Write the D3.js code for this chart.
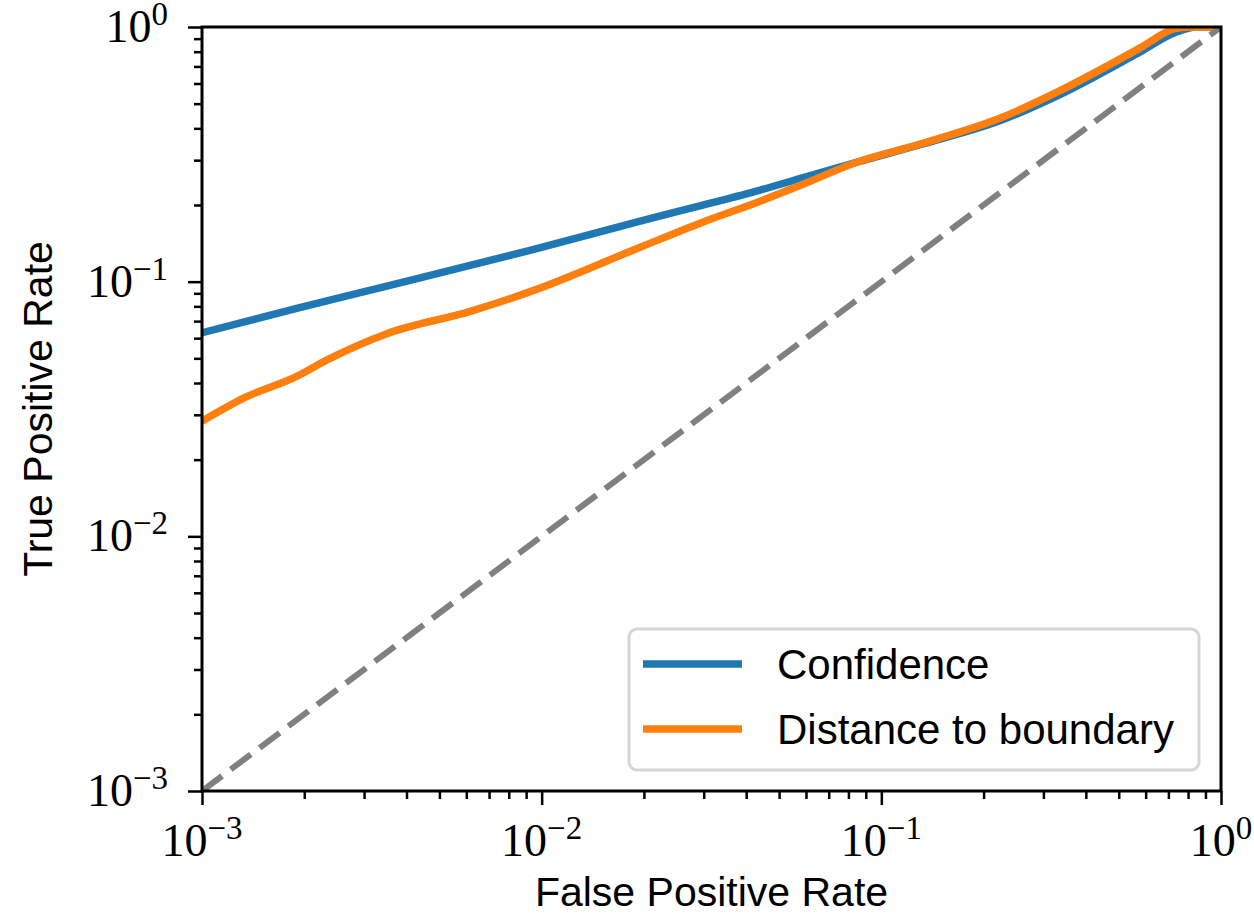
<!DOCTYPE html>
<html>
<head>
<meta charset="utf-8">
<script src="https://cdn.jsdelivr.net/npm/d3@7"></script>
<style>
body { margin: 0; background: #fff; }
</style>
</head>
<body>
<div id="chart"></div>
<script>
// ROC curves (log-log)
var fprConf = [0.001, 0.0019, 0.0035, 0.0093, 0.0195, 0.0294, 0.044, 0.06, 0.085, 0.13, 0.225, 0.338, 0.58, 0.73, 0.85, 1.0];
var tprConf = [0.063, 0.0786, 0.096, 0.133, 0.173, 0.199, 0.229, 0.258, 0.295, 0.345, 0.43, 0.545, 0.80, 0.95, 1.0, 1.0];
var fprDist = [0.001, 0.00134, 0.0019, 0.00235, 0.0035, 0.0062, 0.0093, 0.0195, 0.0294, 0.044, 0.0578, 0.085, 0.13, 0.225, 0.338, 0.58, 0.73, 0.8, 1.0];
var tprDist = [0.0283, 0.0351, 0.0425, 0.0495, 0.0625, 0.0766, 0.0916, 0.1365, 0.17, 0.207, 0.239, 0.295, 0.347, 0.44, 0.565, 0.83, 0.985, 1.0, 1.0];
var diagonal = [0.001, 1];
var tickExps = [-3, -2, -1, 0];
var seriesNames = ["Confidence", "Distance to boundary"];
var seriesColors = ["#1f77b4", "#ff7f0e"];
var xLabel = "False Positive Rate";
var yLabel = "True Positive Rate";

var width = 1254;
var height = 918;
var plotLeft = 202, plotRight = 1221, plotTop = 27, plotBottom = 791;

var SERIF = "'Liberation Serif', 'DejaVu Serif', serif";
var SANS = "'Liberation Sans', 'DejaVu Sans', sans-serif";

var svg = d3.select("#chart")
    .append("svg")
    .attr("width", width)
    .attr("height", height);

var x = d3.scaleLog().domain([1e-3, 1]).range([plotLeft, plotRight]);
var y = d3.scaleLog().domain([1e-3, 1]).range([plotBottom, plotTop]);

svg.append("defs").append("clipPath").attr("id", "plotclip")
    .append("rect")
    .attr("x", plotLeft).attr("y", plotTop)
    .attr("width", plotRight - plotLeft).attr("height", plotBottom - plotTop);

// minor tick positions
var minors = [];
tickExps.slice(0, 3).forEach(function(e){
    for (var k = 2; k <= 9; k++) minors.push(k * Math.pow(10, e));
});
var majors = tickExps.map(function(e){ return Math.pow(10, e); });

function styleAxis(g){
    g.select(".domain").remove();
    g.selectAll(".tick line").attr("stroke", "#000").attr("stroke-width", 2.5);
}

svg.append("g")
    .attr("transform", "translate(0," + plotBottom + ")")
    .call(d3.axisBottom(x).tickValues(minors).tickSize(8).tickFormat(""))
    .call(styleAxis);
svg.append("g")
    .attr("transform", "translate(0," + plotBottom + ")")
    .call(d3.axisBottom(x).tickValues(majors).tickSize(14).tickFormat(""))
    .call(styleAxis);
svg.append("g")
    .attr("transform", "translate(" + plotLeft + ",0)")
    .call(d3.axisLeft(y).tickValues(minors).tickSize(8).tickFormat(""))
    .call(styleAxis);
svg.append("g")
    .attr("transform", "translate(" + plotLeft + ",0)")
    .call(d3.axisLeft(y).tickValues(majors).tickSize(14).tickFormat(""))
    .call(styleAxis);

// power-of-ten labels
function powLabel(sel, e){
    sel.append("tspan").text("10");
    sel.append("tspan")
        .attr("dy", -17)
        .attr("font-size", 33)
        .text(e < 0 ? "\u2212" + (-e) : "" + e);
}

tickExps.forEach(function(e){
    var v = Math.pow(10, e);
    var tx = svg.append("text")
        .attr("x", x(v))
        .attr("y", 856)
        .attr("text-anchor", "middle")
        .attr("font-family", SERIF)
        .attr("font-size", 46);
    powLabel(tx, e);

    var ty = svg.append("text")
        .attr("x", 168)
        .attr("y", y(v) + 15)
        .attr("text-anchor", "end")
        .attr("font-family", SERIF)
        .attr("font-size", 46);
    powLabel(ty, e);
});

// curves
var line = d3.line()
    .x(function(d){ return x(d[0]); })
    .y(function(d){ return y(d[1]); })
    .curve(d3.curveMonotoneX);

var plot = svg.append("g").attr("clip-path", "url(#plotclip)");

var series = [
    d3.zip(fprConf, tprConf),
    d3.zip(fprDist, tprDist)
];

series.forEach(function(s, i){
    plot.append("path")
        .datum(s)
        .attr("d", line)
        .attr("fill", "none")
        .attr("stroke", seriesColors[i])
        .attr("stroke-width", 7.5)
        .attr("stroke-linejoin", "round");
});

plot.append("line")
    .attr("x1", x(diagonal[0])).attr("y1", y(diagonal[0]))
    .attr("x2", x(diagonal[1])).attr("y2", y(diagonal[1]))
    .attr("stroke", "#808080")
    .attr("stroke-width", 6)
    .attr("stroke-dasharray", "25,11");

// frame
svg.append("rect")
    .attr("x", plotLeft).attr("y", plotTop)
    .attr("width", plotRight - plotLeft).attr("height", plotBottom - plotTop)
    .attr("fill", "none")
    .attr("stroke", "#000")
    .attr("stroke-width", 3);

// axis labels
svg.append("text")
    .attr("x", (plotLeft + plotRight) / 2)
    .attr("y", 906)
    .attr("text-anchor", "middle")
    .attr("font-family", SANS)
    .attr("font-size", 41)
    .text(xLabel);

svg.append("text")
    .attr("transform", "translate(52," + (plotTop + plotBottom) / 2 + ") rotate(-90)")
    .attr("text-anchor", "middle")
    .attr("font-family", SANS)
    .attr("font-size", 41)
    .text(yLabel);

// legend
var legend = svg.append("g");
legend.append("rect")
    .attr("x", 629).attr("y", 629)
    .attr("width", 570).attr("height", 141)
    .attr("rx", 8)
    .attr("fill", "#fff").attr("fill-opacity", 0.8)
    .attr("stroke", "#cccccc").attr("stroke-opacity", 0.8)
    .attr("stroke-width", 3);

seriesNames.forEach(function(name, i){
    var ly = 664 + i * 65;
    legend.append("line")
        .attr("x1", 643).attr("x2", 742)
        .attr("y1", ly).attr("y2", ly)
        .attr("stroke", seriesColors[i])
        .attr("stroke-width", 7.5);
    legend.append("text")
        .attr("x", 777)
        .attr("y", ly + 15)
        .attr("font-family", SANS)
        .attr("font-size", 42)
        .text(name);
});
</script>
</body>
</html>
